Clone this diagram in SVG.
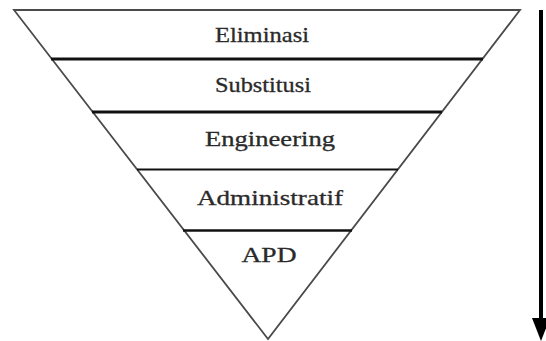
<svg xmlns="http://www.w3.org/2000/svg" width="546" height="341" viewBox="0 0 546 341">
  <defs>
    <style>
      .edge { fill: none; stroke: #4a4a4a; stroke-width: 1.8; stroke-linejoin: miter; }
      .divider { stroke: #111; stroke-linecap: butt; }
      .label { font-family: "Liberation Serif", "Times New Roman", serif; font-size: 21px; fill: #2a2a2a; text-anchor: middle; stroke: #2a2a2a; stroke-width: 0.3; }
      .flow { stroke: #000; stroke-width: 4; fill: none; }
    </style>
  </defs>
  <rect width="546" height="341" fill="#fff"/>

  <!-- inverted triangle outline -->
  <g id="hierarchy">
    <polygon class="edge" points="14,10 520,10 268,339"/>
  </g>

  <!-- level dividers -->
  <g id="dividers">
    <line class="divider" x1="51" y1="59" x2="483" y2="59" stroke-width="3.2"/>
    <line class="divider" x1="92" y1="112" x2="442" y2="112" stroke-width="3.2"/>
    <line class="divider" x1="137" y1="169.5" x2="398" y2="169.5" stroke-width="2.2"/>
    <line class="divider" x1="183" y1="230.5" x2="352" y2="230.5" stroke-width="2.6"/>
  </g>

  <g id="eliminasi">
    <text class="label" x="262" y="42" textLength="94" lengthAdjust="spacingAndGlyphs">Eliminasi</text>
  </g>
  <g id="substitusi">
    <text class="label" x="263" y="92" textLength="96" lengthAdjust="spacingAndGlyphs">Substitusi</text>
  </g>
  <g id="engineering">
    <text class="label" x="270" y="146" textLength="130" lengthAdjust="spacingAndGlyphs">Engineering</text>
  </g>
  <g id="administratif">
    <text class="label" x="270" y="205" textLength="146" lengthAdjust="spacingAndGlyphs">Administratif</text>
  </g>
  <g id="apd">
    <text class="label" x="269" y="262" textLength="55" lengthAdjust="spacingAndGlyphs">APD</text>
  </g>

  <!-- direction arrow -->
  <g id="connectors">
    <line class="flow" x1="541" y1="10" x2="541" y2="322"/>
    <polygon points="532,318 550,318 541,341" fill="#000"/>
  </g>
</svg>
